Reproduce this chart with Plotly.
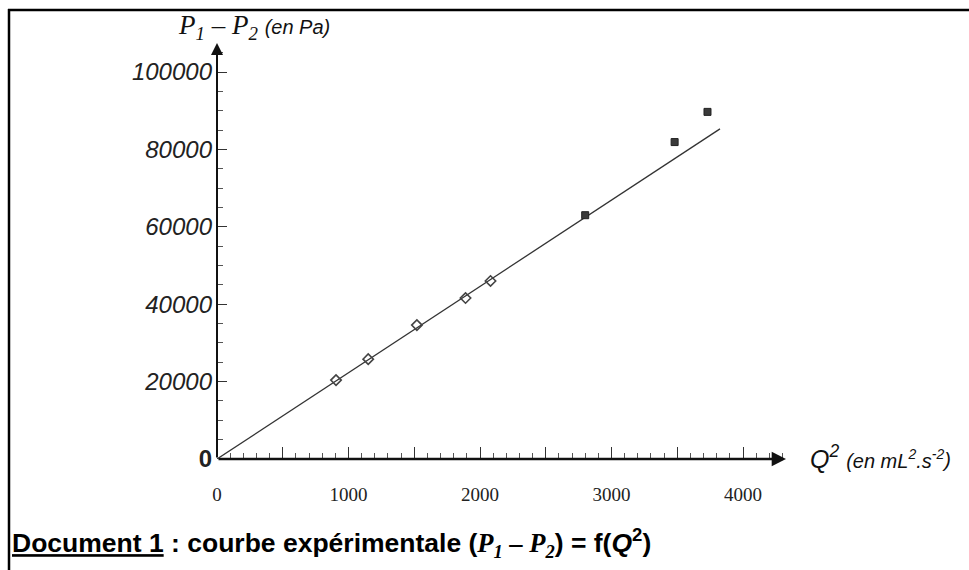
import plotly.graph_objects as go

# ---- data ----
q2_values = [905, 1150, 1520, 1890, 2080]          # open markers
dp_values = [20400, 25800, 34600, 41600, 46000]
q2_high = [2800, 3480, 3730]                        # dark markers
dp_high = [63000, 81900, 89700]
fit_q2 = [0, 3825]
fit_dp = [0, 85300]

x_ticks_major = 500
x_ticks_minor = 100
y_tickvals = [0, 20000, 40000, 60000, 80000, 100000]
y_ticktext = ["<b>0</b>"] + ["<i>%d</i>" % v for v in y_tickvals[1:]]

X_MAX = 4327
Y_MAX = 107500

W, H = 969, 570
L, R, T, B = 217, 183, 43, 111
PW, PH = W - L - R, H - T - B


def px(xp):
    return (xp - L) / PW


def py(yp):
    return (H - B - yp) / PH


fig = go.Figure()

fig.add_trace(go.Scatter(
    x=fit_q2, y=fit_dp, mode="lines",
    line=dict(color="#333333", width=1.3), hoverinfo="skip", showlegend=False))

fig.add_trace(go.Scatter(
    x=q2_values, y=dp_values, mode="markers",
    marker=dict(symbol="diamond-open", size=8, color="#444444",
                line=dict(width=1.6, color="#444444")),
    showlegend=False))

fig.add_trace(go.Scatter(
    x=q2_high, y=dp_high, mode="markers",
    marker=dict(symbol="square", size=7, color="#3a3a3a",
                line=dict(width=1, color="#222222")),
    showlegend=False))

# axis arrows
fig.add_annotation(x=X_MAX, y=0, ax=0, ay=0, xref="x", yref="y", axref="x", ayref="y",
                   text="", showarrow=True, arrowhead=2, arrowsize=1.1,
                   arrowwidth=2.6, arrowcolor="#111111")
fig.add_annotation(x=0, y=Y_MAX, ax=0, ay=0, xref="x", yref="y", axref="x", ayref="y",
                   text="", showarrow=True, arrowhead=2, arrowsize=1.2,
                   arrowwidth=2.0, arrowcolor="#111111")

# axis titles
fig.add_annotation(
    x=px(176), y=py(27), xref="paper", yref="paper", xanchor="left", yanchor="middle",
    showarrow=False,
    text="<i>P<sub>1</sub> – P<sub>2</sub></i> <span style='font-family:Liberation Sans;font-size:20px'><i>(en Pa)</i></span>",
    font=dict(family="Liberation Serif", size=27, color="#111111"))
fig.add_annotation(
    x=px(808), y=py(457), xref="paper", yref="paper", xanchor="left", yanchor="middle",
    showarrow=False,
    text="<i>Q<sup>2</sup></i> <span style='font-size:20px'><i>(en mL<sup>2</sup>.s<sup>-2</sup>)</i></span>",
    font=dict(family="Liberation Sans", size=25, color="#111111"))

# caption
fig.add_annotation(
    x=px(10), y=py(543), xref="paper", yref="paper", xanchor="left", yanchor="middle",
    showarrow=False,
    text="<b><u>Document 1</u> : courbe expérimentale (<span style='font-family:Liberation Serif'><i>P<sub>1</sub> – P<sub>2</sub></i></span>) = f(<i>Q</i><sup>2</sup>)</b>",
    font=dict(family="Liberation Sans", size=26.5, color="#000000"))

# frame
fig.add_shape(type="line", xref="paper", yref="paper", x0=px(8), x1=px(969), y0=py(10), y1=py(10),
              line=dict(color="#000000", width=2.5))
fig.add_shape(type="line", xref="paper", yref="paper", x0=px(9), x1=px(9), y0=py(9), y1=py(570),
              line=dict(color="#000000", width=2.5))

fig.update_xaxes(
    range=[0, X_MAX], showgrid=False, zeroline=False, showline=False,
    tick0=0, dtick=x_ticks_major, ticklabelstep=2,
    ticks="inside", ticklen=12, tickwidth=1.4, tickcolor="#333333",
    minor=dict(dtick=x_ticks_minor, ticks="inside", ticklen=6, tickwidth=1.2, tickcolor="#555555"),
    tickfont=dict(family="Liberation Serif", size=19, color="#222222"),
    ticklabelstandoff=22, automargin=False, fixedrange=True)
fig.update_yaxes(
    range=[0, Y_MAX], showgrid=False, zeroline=False, showline=False,
    tickmode="array", tickvals=y_tickvals, ticktext=y_ticktext,
    ticks="inside", ticklen=10, tickwidth=1.4, tickcolor="#333333",
    minor=dict(dtick=5000, ticks="inside", ticklen=6, tickwidth=1.2, tickcolor="#555555"),
    tickfont=dict(family="Liberation Sans", size=24, color="#222222"),
    ticklabelstandoff=4, automargin=False, fixedrange=True)

fig.update_layout(
    width=W, height=H, margin=dict(l=L, r=R, t=T, b=B, pad=0),
    plot_bgcolor="white", paper_bgcolor="white", showlegend=False)

fig.write_html("out.html", config={"displayModeBar": False},
               post_script="document.body.style.margin='0';")
